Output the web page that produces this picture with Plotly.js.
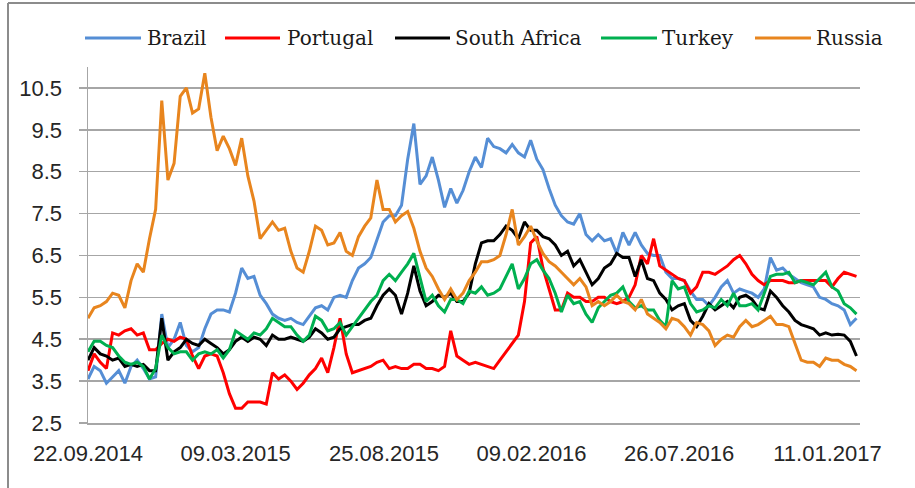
<!DOCTYPE html>
<html>
<head>
<meta charset="utf-8">
<script src="https://cdn.plot.ly/plotly-3.0.1.min.js"></script>
<style>
  html, body { margin: 0; padding: 0; background: #ffffff; }
  #chart { width: 915px; height: 488px; }
</style>
</head>
<body>
<div id="chart"></div>
<script>
// Weekly observations starting Monday 22.09.2014
const firstWeek = '2014-09-22';
const weekCount = 126;

const seriesNames = ['Brazil', 'Portugal', 'South Africa', 'Turkey', 'Russia'];
const seriesColors = ['#558ED5', '#FF0000', '#000000', '#00B050', '#E8851E'];

const brazil = [
  3.55, 3.85, 3.75, 3.45, 3.6, 3.75, 3.45, 3.85, 4.0, 3.8, 3.55, 3.6, 5.1, 4.3, 4.5, 4.9,
  4.35, 4.2, 4.3, 4.75, 5.1, 5.2, 5.2, 5.15, 5.6, 6.2, 5.95, 6.0, 5.55, 5.35, 5.1, 5.0,
  4.95, 5.0, 4.9, 4.85, 5.05, 5.25, 5.3, 5.2, 5.5, 5.55, 5.5, 5.9, 6.2, 6.3, 6.45, 6.9,
  7.3, 7.45, 7.45, 7.7, 8.8, 9.65, 8.2, 8.4, 8.85, 8.3, 7.65, 8.1, 7.75, 8.05, 8.5,
  8.85, 8.6, 9.3, 9.1, 9.05, 8.95, 9.15, 8.95, 8.85, 9.25, 8.8, 8.55, 8.1, 7.7, 7.45,
  7.3, 7.25, 7.5, 7.0, 6.85, 7.0, 6.85, 6.9, 6.55, 7.05, 6.75, 7.05, 6.75, 6.55, 6.5,
  6.5, 6.1, 5.95, 5.95, 5.9, 5.65, 5.45, 5.45, 5.3, 5.5, 5.75, 5.9, 5.6, 5.7, 5.65, 5.6,
  5.5, 5.7, 6.45, 6.15, 6.2, 6.05, 5.95, 5.85, 5.8, 5.75, 5.5, 5.45, 5.35, 5.3, 5.2, 4.85, 5.0
];

const portugal = [
  3.75, 4.15, 3.95, 3.8, 4.65, 4.6, 4.7, 4.75, 4.6, 4.65, 4.25, 4.25, 4.4, 4.5, 4.45, 4.55,
  4.5, 4.1, 3.8, 4.1, 4.15, 4.1, 3.7, 3.2, 2.85, 2.85, 3.0, 3.0, 3.0, 2.95, 3.7, 3.55,
  3.65, 3.5, 3.3, 3.45, 3.65, 3.8, 4.05, 3.7, 4.3, 5.0, 4.15, 3.7, 3.75, 3.8, 3.85, 3.95,
  4.0, 3.8, 3.85, 3.8, 3.8, 3.9, 3.9, 3.8, 3.8, 3.75, 3.85, 4.7, 4.1, 4.0, 3.9,
  3.95, 3.9, 3.85, 3.8, 4.0, 4.2, 4.4, 4.6, 5.4, 6.8, 6.95, 6.2, 5.7, 5.2, 5.2,
  5.6, 5.5, 5.5, 5.4, 5.4, 5.5, 5.5, 5.4, 5.35, 5.4, 5.5, 5.8, 6.5, 6.3, 6.9,
  6.25, 6.15, 6.05, 5.95, 5.9, 5.6, 5.75, 6.1, 6.1, 6.05, 6.15, 6.25, 6.4, 6.5, 6.3, 6.05,
  5.9, 5.8, 5.9, 5.9, 5.9, 5.85, 5.85, 5.9, 5.9, 5.9, 5.9, 5.9, 5.75, 5.95, 6.1, 6.05, 6.0
];

const southAfrica = [
  4.0, 4.3, 4.15, 4.1, 4.0, 4.05, 3.85, 3.9, 3.85, 3.9, 3.75, 3.75, 5.0, 4.0, 4.2, 4.3,
  4.5, 4.4, 4.35, 4.5, 4.4, 4.3, 4.15, 4.25, 4.45, 4.55, 4.45, 4.55, 4.5, 4.35, 4.6, 4.5,
  4.5, 4.55, 4.5, 4.45, 4.55, 4.75, 4.65, 4.5, 4.55, 4.75, 4.8, 4.85, 4.85, 4.95, 5.0, 5.3,
  5.55, 5.7, 5.55, 5.1, 5.6, 6.25, 5.65, 5.3, 5.4, 5.55, 5.5, 5.6, 5.4, 5.4, 5.6,
  6.3, 6.8, 6.85, 6.85, 7.0, 7.2, 7.1, 6.9, 7.3, 7.1, 7.1, 6.95, 6.9, 6.75, 6.5,
  6.6, 6.25, 6.4, 6.1, 5.8, 5.95, 6.2, 6.3, 6.55, 6.45, 6.45, 6.0, 6.4, 5.95, 5.9,
  5.6, 5.45, 5.2, 5.3, 5.35, 4.95, 4.8, 5.05, 5.35, 5.2, 5.3, 5.4, 5.25, 5.5, 5.55, 5.45,
  5.25, 5.2, 5.65, 5.5, 5.3, 5.15, 4.95, 4.85, 4.8, 4.75, 4.6, 4.65, 4.6, 4.62, 4.6, 4.45, 4.1
];

const turkey = [
  4.2, 4.45, 4.45, 4.35, 4.3, 4.1, 3.95, 3.9, 3.95, 3.85, 3.55, 3.8, 4.6, 4.3, 4.15, 4.2,
  4.2, 4.0, 4.15, 4.2, 4.15, 4.25, 4.05, 4.25, 4.7, 4.6, 4.5, 4.65, 4.6, 4.75, 5.0, 4.9,
  4.8, 4.8, 4.6, 4.45, 4.6, 5.05, 4.95, 4.7, 4.75, 4.9, 4.6, 4.8, 5.0, 5.2, 5.4, 5.55,
  5.9, 6.05, 5.9, 6.1, 6.3, 6.55, 5.95, 5.4, 5.55, 5.3, 5.15, 5.45, 5.45, 5.35, 5.65,
  5.6, 5.75, 5.55, 5.6, 5.7, 6.0, 6.3, 5.7, 5.95, 6.3, 6.4, 6.15, 5.95, 5.6, 5.15,
  5.55, 5.35, 5.4, 5.1, 4.9, 5.25, 5.4, 5.55, 5.6, 5.75, 5.4, 5.25, 5.3, 5.2, 5.2,
  4.95, 4.8, 5.9, 5.7, 5.75, 5.35, 5.15, 5.2, 5.3, 5.25, 5.45, 5.3, 5.6, 5.3, 5.3, 5.35,
  5.2, 5.6, 6.0, 6.05, 6.05, 6.1, 5.85, 5.9, 5.85, 5.8, 5.95, 6.1, 5.75, 5.65, 5.35, 5.25, 5.1
];

const russia = [
  5.0, 5.25, 5.3, 5.4, 5.6, 5.55, 5.25, 5.9, 6.3, 6.1, 6.9, 7.6, 10.2, 8.3, 8.7, 10.3,
  10.5, 9.9, 10.0, 10.85, 9.8, 9.0, 9.35, 9.05, 8.65, 9.3, 8.4, 7.8, 6.9, 7.1, 7.3, 7.1,
  7.15, 6.6, 6.2, 6.1, 6.6, 7.2, 7.1, 6.75, 6.8, 7.05, 6.6, 6.5, 6.95, 7.2, 7.4, 8.3,
  7.6, 7.6, 7.3, 7.45, 7.55, 7.15, 6.6, 6.2, 6.0, 5.7, 5.45, 5.7, 5.45, 5.6, 5.9,
  6.1, 6.35, 6.35, 6.4, 6.5, 7.0, 7.6, 6.75, 6.95, 7.2, 6.85, 6.55, 6.35, 6.25, 6.1,
  5.95, 5.8, 5.95, 5.75, 5.3, 5.4, 5.3, 5.4, 5.55, 5.4, 5.35, 5.2, 5.45, 5.1, 5.0,
  4.9, 4.75, 5.0, 4.95, 4.8, 4.6, 4.9, 4.85, 4.7, 4.35, 4.5, 4.6, 4.55, 4.8, 4.95, 4.8,
  4.85, 4.95, 5.05, 4.85, 4.85, 4.8, 4.4, 4.0, 3.95, 3.95, 3.85, 4.05, 4.0, 4.0, 3.9, 3.85, 3.75
];

const tickDates = ['2014-09-22', '2015-03-09', '2015-08-25', '2016-02-09', '2016-07-26', '2017-01-11'];
const tickLabels = ['22.09.2014', '09.03.2015', '25.08.2015', '09.02.2016', '26.07.2016', '11.01.2017'];

// build weekly date axis
const dates = [];
const startMs = Date.parse(firstWeek + 'T00:00:00Z');
for (let i = 0; i < weekCount; i++) {
  dates.push(new Date(startMs + i * 7 * 86400000).toISOString().slice(0, 10));
}

const allValues = [brazil, portugal, southAfrica, turkey, russia];
const traces = allValues.map((vals, k) => ({
  type: 'scatter',
  mode: 'lines',
  name: seriesNames[k],
  x: dates.slice(0, vals.length),
  y: vals,
  line: { color: seriesColors[k], width: 3 },
  showlegend: false,
  hoverinfo: 'x+y+name'
}));

// plot area geometry in px (for decorative legend & frame)
const W = 915, H = 488;
const mL = 88, mR = 55, mT = 67, mB = 65;
const pw = W - mL - mR, ph = H - mT - mB;
const px = (x) => (x - mL) / pw;
const py = (y) => (H - mB - y) / ph;

// manual legend (long line samples like the original)
const legendLine = [[85, 141], [225, 280], [395, 450], [601, 657], [755, 811]];
const legendText = [146, 286, 454, 661, 815];
const legendY = 38;

const shapes = [];
const annotations = [];
seriesNames.forEach((nm, k) => {
  shapes.push({
    type: 'line', xref: 'paper', yref: 'paper',
    x0: px(legendLine[k][0]), x1: px(legendLine[k][1]),
    y0: py(legendY), y1: py(legendY),
    line: { color: seriesColors[k], width: 3 }
  });
  annotations.push({
    xref: 'paper', yref: 'paper',
    x: px(legendText[k]), y: py(legendY),
    xanchor: 'left', yanchor: 'middle',
    text: nm, showarrow: false,
    borderpad: 0,
    font: { family: 'DejaVu Serif', size: 20, color: '#1a1a1a' }
  });
});

// frame: left and top border lines
shapes.push({
  type: 'line', xref: 'paper', yref: 'paper',
  x0: px(8), x1: px(8), y0: py(3), y1: py(488),
  line: { color: '#8c8c8c', width: 2 }
});
shapes.push({
  type: 'line', xref: 'paper', yref: 'paper',
  x0: px(8), x1: px(915), y0: py(3), y1: py(3),
  line: { color: '#8c8c8c', width: 2 }
});

const layout = {
  width: W, height: H,
  margin: { l: mL, r: mR, t: mT, b: mB, pad: 0 },
  paper_bgcolor: '#ffffff',
  plot_bgcolor: '#ffffff',
  showlegend: false,
  font: { family: 'Liberation Sans, Arial, sans-serif', size: 22, color: '#262626' },
  xaxis: {
    type: 'date',
    range: ['2014-09-22', '2017-02-17'],
    tickmode: 'array',
    tickvals: tickDates,
    ticktext: tickLabels,
    showgrid: false,
    zeroline: false,
    showline: true,
    linecolor: '#a6a6a6',
    linewidth: 1.5,
    ticks: '',
    ticklabelstandoff: 10,
    tickfont: { family: 'Liberation Sans, Arial, sans-serif', size: 22, color: '#262626' }
  },
  yaxis: {
    range: [2.5, 11],
    tick0: 2.5,
    dtick: 1,
    tickformat: '.1f',
    showgrid: true,
    gridcolor: '#a6a6a6',
    gridwidth: 1.5,
    zeroline: false,
    showline: true,
    linecolor: '#a6a6a6',
    linewidth: 1.5,
    ticks: 'outside',
    ticklen: 8,
    tickwidth: 1.5,
    tickcolor: '#a6a6a6',
    ticklabelstandoff: 12,
    tickfont: { family: 'Liberation Sans, Arial, sans-serif', size: 22, color: '#262626' }
  },
  shapes: shapes,
  annotations: annotations
};

Plotly.newPlot('chart', traces, layout, { displayModeBar: false, staticPlot: true });
</script>
</body>
</html>
